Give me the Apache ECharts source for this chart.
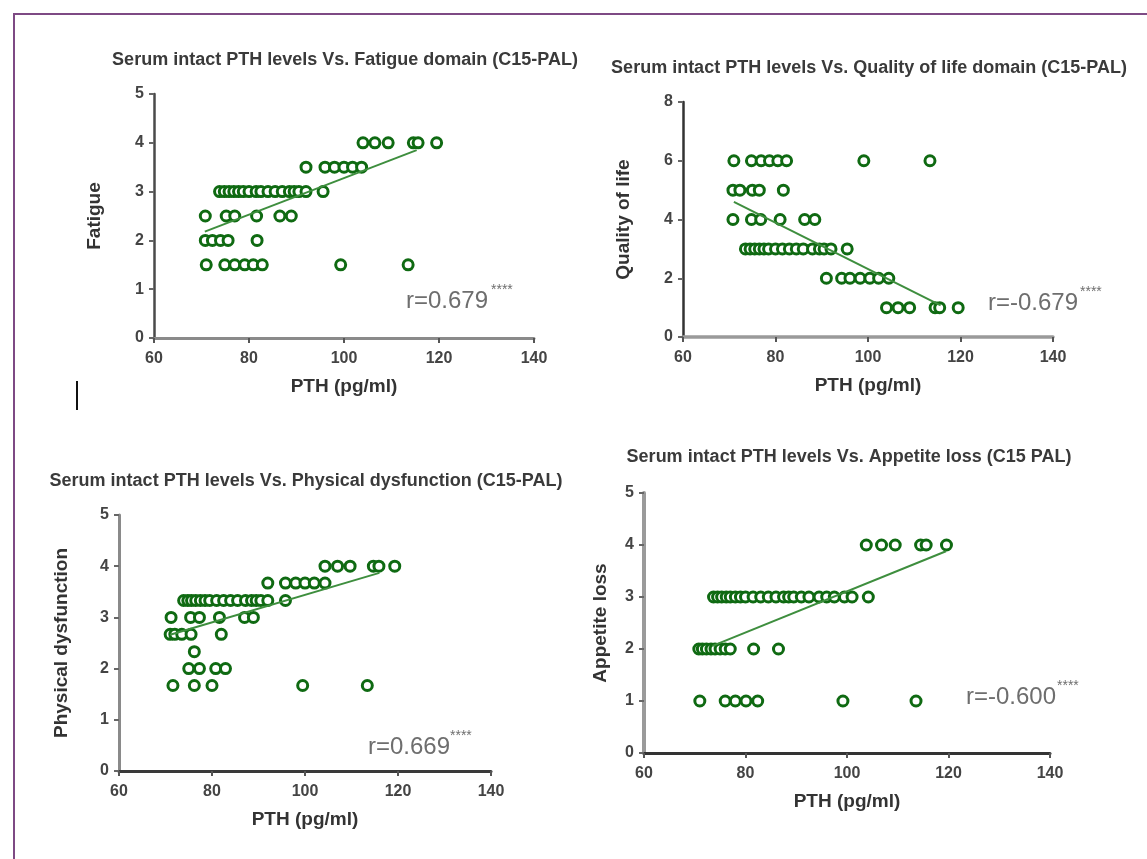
<!DOCTYPE html>
<html><head><meta charset="utf-8">
<script src="https://cdn.jsdelivr.net/npm/echarts/dist/echarts.min.js"></script>
<style>html,body{margin:0;padding:0;background:#fff}#c{width:1147px;height:859px}</style>
</head><body><div id="c"></div>
<script>
// ---------- data ----------
const xTickMin = 60, xTickMax = 140, xTickStep = 20;
const xAxisName = 'PTH (pg/ml)';

const titles = [
  'Serum intact PTH levels Vs. Fatigue domain (C15-PAL)',
  'Serum intact PTH levels Vs. Quality of life domain (C15-PAL)',
  'Serum intact PTH levels Vs. Physical dysfunction (C15-PAL)',
  'Serum intact PTH levels Vs. Appetite loss (C15 PAL)'
];
const yNames = ['Fatigue', 'Quality of life', 'Physical dysfunction', 'Appetite loss'];
const yMax = [5, 8, 5, 5];
const yStep = [1, 2, 1, 1];
const rLabels = ['r=0.679', 'r=-0.679', 'r=0.669', 'r=-0.600'];
const rStars = '****';

// Fatigue
const fatigueLevels = [4, 3.5, 3, 2.5, 2, 1.5];
const fatiguePTH = [
  [104, 106.5, 109.3, 114.6, 115.6, 119.5],
  [92, 96, 98, 100, 101.8, 103.7],
  [73.8, 74.8, 75.8, 76.8, 77.8, 78.8, 80, 81.5, 82.5, 84, 85.5, 87, 88.5, 89.5, 90.5, 92, 95.6],
  [70.8, 75.2, 77, 81.6, 86.5, 88.9],
  [70.8, 72.3, 74, 75.6, 81.7],
  [71, 74.9, 77, 79.1, 80.9, 82.8, 99.3, 113.5]
];
const fatigueFit = [[70.7, 2.18], [115.3, 3.85]];

// Quality of life
const qolLevels = [6, 5, 4, 3, 2, 1];
const qolPTH = [
  [71, 74.8, 76.9, 78.7, 80.5, 82.4, 99.1, 113.4],
  [70.8, 72.3, 75, 76.5, 81.7],
  [70.8, 74.8, 76.8, 81, 86.3, 88.5],
  [73.5, 74.5, 75.5, 76.5, 77.5, 78.5, 80, 81.5, 83, 84.5, 86, 88, 89.5, 90.5, 92, 95.5],
  [91, 94.3, 96.1, 98.3, 100.4, 102.3, 104.5],
  [104, 106.5, 109, 114.5, 115.5, 119.5]
];
const qolFit = [[71, 4.6], [115.7, 1.08]];

// Physical dysfunction
const physLevels = [4, 3.67, 3.33, 3, 2.67, 2.33, 2, 1.67];
const physPTH = [
  [104.3, 107, 109.7, 114.7, 115.9, 119.3],
  [92, 95.8, 98, 100, 102, 104.3],
  [73.9, 74.8, 75.6, 76.5, 77.5, 78.5, 79.5, 81, 82.5, 84, 85.5, 87.2, 88.5, 89.5, 90.5, 92, 95.8],
  [71.2, 75.4, 77.3, 81.6, 87, 88.9],
  [71, 72, 73.5, 75.5, 82],
  [76.2],
  [75, 77.3, 80.8, 82.9],
  [71.6, 76.2, 80, 99.5, 113.4]
];
const physFit = [[71, 2.66], [116, 3.87]];

// Appetite loss
const appLevels = [4, 3, 2, 1];
const appPTH = [
  [103.8, 106.8, 109.5, 114.5, 115.6, 119.6],
  [73.7, 74.5, 75.3, 76.2, 77, 78, 79, 80, 81.5, 83, 84.5, 86, 87.5, 88.5, 89.5, 91, 92.5, 94.5, 96, 97.5, 99.5, 101, 104.2],
  [70.8, 71.5, 72.3, 73.2, 74, 75, 76, 77, 81.6, 86.5],
  [71, 76, 78, 80.1, 82.4, 99.2, 113.6]
];
const appFit = [[73.5, 2.06], [119.5, 3.88]];

// ---------- layout / style ----------
const FONT = '"Liberation Sans", Arial, sans-serif';
const grids = [
  {left: 154, top: 94, width: 380, height: 244},
  {left: 683, top: 102, width: 370, height: 235},
  {left: 119, top: 515, width: 372, height: 256},
  {left: 644, top: 493, width: 406, height: 260}
];
const yAxisStyle = [
  {c: '#4a4a4a', w: 2.5}, {c: '#333333', w: 2.5}, {c: '#8a8a8a', w: 3}, {c: '#9a9a9a', w: 4}
];
const xAxisStyle = [
  {c: '#8a8a8a', w: 3}, {c: '#9a9a9a', w: 3.5}, {c: '#3a3a3a', w: 3}, {c: '#333333', w: 3}
];
const yNameGap = [50, 50, 48, 34];
const titlePos = [[345, 60], [869, 68], [306, 481], [849, 457]];
const rPos = [[406, 301], [988, 303], [368, 747], [966, 697]];
const starPos = [[491, 290], [1080, 292], [450, 736], [1057, 686]];

const GREEN = '#0f6a12';
const FITGREEN = '#3e8e3e';

function toPoints(levels, pth) {
  const out = [];
  levels.forEach((lv, i) => pth[i].forEach(x => out.push([x, lv])));
  return out;
}
const panels = [
  {pts: toPoints(fatigueLevels, fatiguePTH), fit: fatigueFit},
  {pts: toPoints(qolLevels, qolPTH), fit: qolFit},
  {pts: toPoints(physLevels, physPTH), fit: physFit},
  {pts: toPoints(appLevels, appPTH), fit: appFit}
];

const xAxes = [], yAxes = [], series = [], graphics = [];
grids.forEach((g, i) => {
  xAxes.push({
    gridIndex: i, type: 'value', min: xTickMin, max: xTickMax, interval: xTickStep,
    name: xAxisName, nameLocation: 'middle', nameGap: 39,
    nameTextStyle: {fontFamily: FONT, fontSize: 19, fontWeight: 'bold', color: '#333'},
    axisLine: {show: true, onZero: false, lineStyle: {color: xAxisStyle[i].c, width: xAxisStyle[i].w}},
    axisTick: {show: true, length: 5, lineStyle: {color: '#555', width: 2}},
    axisLabel: {margin: 13, fontFamily: FONT, fontSize: 16, fontWeight: 'bold', color: '#444', showMinLabel: true, showMaxLabel: true},
    splitLine: {show: false}
  });
  yAxes.push({
    gridIndex: i, type: 'value', min: 0, max: yMax[i], interval: yStep[i],
    name: yNames[i], nameLocation: 'middle', nameGap: yNameGap[i],
    nameTextStyle: {fontFamily: FONT, fontSize: 19, fontWeight: 'bold', color: '#333'},
    axisLine: {show: true, onZero: false, lineStyle: {color: yAxisStyle[i].c, width: yAxisStyle[i].w}},
    axisTick: {show: true, length: 5, lineStyle: {color: '#666', width: 2}},
    axisLabel: {margin: 10, fontFamily: FONT, fontSize: 16, fontWeight: 'bold', color: '#444', showMinLabel: true, showMaxLabel: true},
    splitLine: {show: false}
  });
  series.push({
    type: 'scatter', xAxisIndex: i, yAxisIndex: i, data: panels[i].pts,
    symbol: 'circle', symbolSize: 10,
    itemStyle: {color: '#ffffff', borderColor: GREEN, borderWidth: 3, opacity: 1},
    z: 3
  });
  series.push({
    type: 'line', xAxisIndex: i, yAxisIndex: i, data: panels[i].fit,
    symbol: 'none', lineStyle: {color: FITGREEN, width: 2}, z: 4, silent: true
  });
  graphics.push({
    type: 'text', x: titlePos[i][0], y: titlePos[i][1],
    style: {text: titles[i], fontFamily: FONT, fontSize: 18, fontWeight: 'bold', fill: '#3a3a3a', align: 'center', verticalAlign: 'middle'}
  });
  graphics.push({
    type: 'text', x: rPos[i][0], y: rPos[i][1],
    style: {text: rLabels[i], fontFamily: FONT, fontSize: 24, fill: '#6e6e6e', align: 'left', verticalAlign: 'middle'}
  });
  graphics.push({
    type: 'text', x: starPos[i][0], y: starPos[i][1],
    style: {text: rStars, fontFamily: FONT, fontSize: 14, fill: '#6e6e6e', align: 'left', verticalAlign: 'middle'}
  });
});

graphics.push({
  type: 'rect', shape: {x: 14, y: 14, width: 1200, height: 900},
  style: {fill: 'none', stroke: '#7e4a84', lineWidth: 2}, z: 0
});
graphics.push({
  type: 'line', shape: {x1: 77, y1: 381, x2: 77, y2: 410},
  style: {stroke: '#111', lineWidth: 2}
});

const chart = echarts.init(document.getElementById('c'), null, {renderer: 'canvas'});
chart.setOption({
  backgroundColor: '#ffffff',
  animation: false,
  grid: grids,
  xAxis: xAxes,
  yAxis: yAxes,
  series: series,
  graphic: graphics
});
</script></body></html>
